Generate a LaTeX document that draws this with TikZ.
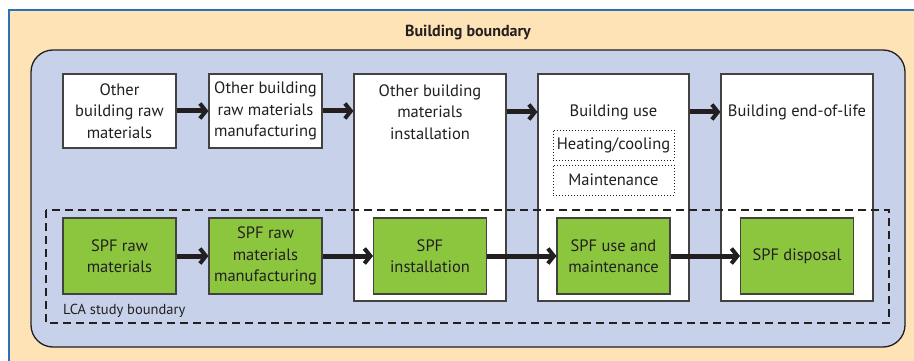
\documentclass[tikz,border=0pt]{standalone}
\usepackage{fontspec}
\setmainfont{PT Sans}
\usetikzlibrary{arrows.meta}
\definecolor{cream}{HTML}{FEE3B6}
\definecolor{bndblue}{HTML}{C7D2EA}
\definecolor{frameblue}{HTML}{2A72B5}
\definecolor{spfgreen}{HTML}{8CC63F}
\definecolor{ink}{HTML}{231F20}

\begin{document}
\begin{tikzpicture}[x=1pt,y=-1pt,
	every node/.style={text=ink, font=\fontsize{16.5}{21.5}\selectfont, align=center, inner sep=0pt},
	wbox/.style={draw=ink!85, line width=1.1pt, fill=white},
	gbox/.style={draw=ink!85, line width=1.1pt, fill=spfgreen, minimum width=113, minimum height=76},
	sub/.style={draw=ink, dotted, line width=1pt, minimum width=121, minimum height=30},
	flow/.style={draw=ink, line width=5pt, -{Straight Barb[length=6pt, width=15pt, line width=4pt]}}]
	\useasboundingbox (0,0) rectangle (914,361);
	\fill[cream] (9,10) rectangle (914,361);
	\draw[frameblue, line width=1.3pt] (9,361) -- (9,10) -- (914,10);
	\node[font=\fontsize{16}{20}\selectfont\bfseries] (title) at (468,33) {Building boundary};
	\draw[ink, line width=1.3pt, fill=bndblue, rounded corners=22] (31,50) rectangle (905,347);

	% white building boxes
	\node[wbox, minimum width=113, minimum height=74] (oraw) at (119.5,111) {Other\\building raw\\materials};
	\node[wbox, minimum width=113, minimum height=74] (omanu) at (265.5,111) {Other building\\raw materials\\manufacturing};
	\node[wbox, minimum width=152, minimum height=227] (oinst) at (430,187.5) {};
	\node[wbox, minimum width=151, minimum height=227] (use) at (613.5,187.5) {};
	\node[wbox, minimum width=152, minimum height=227] (eol) at (797,187.5) {};
	\node (oinstlbl) at (430,112) {Other building\\materials\\installation};
	\node (uselbl) at (613.5,112) {Building use};
	\node (eollbl) at (797,112) {Building end-of-life};
	\node[sub] (heat) at (613.5,145) {Heating/cooling};
	\node[sub] (maint) at (613.5,180) {Maintenance};

	% LCA study boundary
	\draw[ink, dashed, dash pattern=on 8pt off 5pt, line width=1.8pt] (46,210) rectangle (889,323);
	\node[font=\fontsize{14.5}{16}\selectfont, anchor=west] (lca) at (63,311) {LCA study boundary};

	\node[gbox] (sraw) at (119.5,256) {SPF raw\\materials};
	\node[gbox] (smanu) at (265.5,256) {SPF raw\\materials\\manufacturing};
	\node[gbox] (sinst) at (430,256) {SPF\\installation};
	\node[gbox] (suse) at (613.5,256) {SPF use and\\maintenance};
	\node[gbox] (sdisp) at (797,256) {SPF disposal};

	\draw[flow] (oraw) -- (omanu);
	\draw[flow] (omanu) -- (omanu -| oinst.west);
	\draw[flow] (oinstlbl -| oinst.east) -- (uselbl -| use.west);
	\draw[flow] (uselbl -| use.east) -- (eollbl -| eol.west);
	\draw[flow] (sraw) -- (smanu);
	\draw[flow] (smanu) -- (sinst);
	\draw[flow] (sinst) -- (suse);
	\draw[flow] (suse) -- (sdisp);
\end{tikzpicture}
\end{document}
